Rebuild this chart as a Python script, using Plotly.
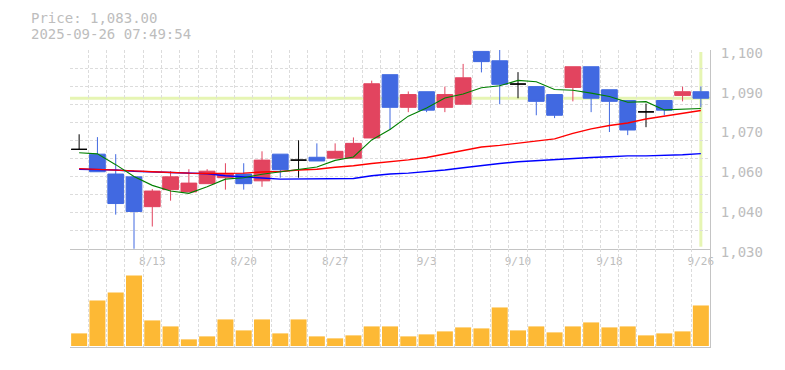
import plotly.graph_objects as go

# ---------------- data ----------------
dates = ["8/6", "8/7", "8/8", "8/12", "8/13", "8/14", "8/15", "8/18", "8/19", "8/20",
         "8/21", "8/22", "8/25", "8/26", "8/27", "8/28", "8/29", "9/1", "9/2", "9/3",
         "9/4", "9/5", "9/8", "9/9", "9/10", "9/11", "9/12", "9/16", "9/17", "9/18",
         "9/19", "9/22", "9/24", "9/25", "9/26"]
label_dates = ["8/13", "8/20", "8/27", "9/3", "9/10", "9/18", "9/26"]

opens = [1065.0, 1063.3, 1056.3, 1055.3, 1044.8, 1050.8, 1050.0, 1052.9, 1055.0, 1056.3,
         1053.9, 1063.3, 1061.2, 1062.2, 1061.9, 1061.9, 1069.0, 1091.3, 1079.8, 1085.3,
         1079.8, 1080.9, 1099.5, 1096.2, 1088.0, 1087.1, 1084.3, 1086.8, 1094.1, 1086.0,
         1082.2, 1078.2, 1082.2, 1084.0, 1085.3]
highs = [1070.3, 1069.3, 1063.3, 1055.3, 1051.0, 1057.3, 1058.0, 1058.0, 1060.1, 1060.1,
         1064.3, 1063.3, 1068.2, 1067.1, 1067.1, 1069.2, 1089.2, 1091.3, 1085.4, 1085.3,
         1087.1, 1095.1, 1099.5, 1101.0, 1092.2, 1087.1, 1084.3, 1094.1, 1094.1, 1086.0,
         1082.2, 1081.1, 1082.2, 1087.1, 1087.1]
lows = [1065.0, 1057.1, 1042.0, 1029.8, 1037.8, 1046.9, 1050.0, 1052.9, 1050.8, 1050.8,
        1051.8, 1055.0, 1055.0, 1060.9, 1061.9, 1061.9, 1069.0, 1071.8, 1078.1, 1078.1,
        1078.1, 1080.9, 1092.1, 1080.9, 1083.0, 1077.0, 1076.0, 1081.9, 1078.1, 1071.1,
        1070.0, 1072.8, 1077.0, 1081.9, 1079.8]
closes = [1065.0, 1057.1, 1045.9, 1043.1, 1050.3, 1055.3, 1053.1, 1057.3, 1056.5, 1052.9,
          1061.2, 1057.8, 1061.2, 1060.9, 1064.3, 1067.1, 1088.1, 1079.8, 1084.3, 1078.8,
          1084.3, 1090.2, 1095.9, 1087.9, 1088.0, 1081.9, 1077.0, 1094.1, 1083.0, 1081.9,
          1071.8, 1078.2, 1078.8, 1085.3, 1083.0]

ma_short = [1063.8, 1063.4, 1059.6, 1055.4, 1052.3, 1050.3, 1049.5, 1051.8, 1054.5, 1055.0,
            1056.2, 1057.1, 1057.9, 1058.8, 1061.1, 1062.3, 1068.3, 1072.0, 1076.7, 1079.6,
            1083.1, 1084.5, 1086.7, 1087.4, 1089.3, 1088.8, 1086.1, 1085.8, 1084.8, 1083.6,
            1081.6, 1081.8, 1078.9, 1079.2, 1079.4]
ma_mid = [1058.2, 1058.0, 1057.8, 1057.4, 1057.1, 1056.8, 1056.6, 1056.5, 1056.5, 1056.6,
          1057.0, 1057.2, 1057.7, 1058.0, 1058.7, 1059.2, 1060.0, 1060.6, 1061.3, 1062.1,
          1063.3, 1064.6, 1065.8, 1066.4, 1067.1, 1067.9, 1068.7, 1070.6, 1072.2, 1073.4,
          1074.3, 1075.7, 1076.7, 1077.6, 1078.7]
ma_long = [1058.0, 1057.9, 1057.7, 1057.3, 1057.1, 1056.8, 1056.6, 1056.4, 1055.7, 1055.2,
           1054.9, 1054.5, 1054.5, 1054.5, 1054.5, 1054.7, 1055.7, 1056.3, 1056.6, 1057.1,
           1057.7, 1058.5, 1059.3, 1060.0, 1060.6, 1061.0, 1061.4, 1061.9, 1062.1, 1062.4,
           1062.7, 1062.7, 1062.8, 1063.1, 1063.5]

volumes = [38, 137, 161, 212, 77, 59, 20, 29, 80, 47, 80, 38, 80, 29, 23, 32, 59, 59,
           29, 35, 44, 56, 53, 116, 47, 59, 41, 59, 71, 56, 59, 32, 38, 44, 122]

price_ticks = [1030, 1044, 1058, 1072, 1086, 1099.999]
price_tick_text = ["1,030", "1,040", "1,060", "1,070", "1,090", "1,100"]

title_price = "Price: 1,083.00"
title_time = "2025-09-26 07:49:54"

# ---------------- styling ----------------
FONT = "DejaVu Sans Mono"
UP = "#e2445f"
DOWN = "#4169e1"
GRID = "#dcdcdc"
AXIS = "#c4c4c4"
TEXT = "#bdbdbd"
HILITE = "#e6f5b3"
VOL = "#fdb935"

x = list(range(len(dates)))

def pick(idx, arr):
    return [arr[i] for i in idx]

up_i = [i for i in x if closes[i] > opens[i]]
dn_i = [i for i in x if closes[i] < opens[i]]
dj_i = [i for i in x if closes[i] == opens[i]]

fig = go.Figure()

# moving averages (behind candles)
fig.add_trace(go.Scatter(x=x, y=ma_long, mode="lines", line=dict(color="#0000ff", width=1.4),
                         xaxis="x", yaxis="y", hoverinfo="skip"))
fig.add_trace(go.Scatter(x=x, y=ma_mid, mode="lines", line=dict(color="#ff0000", width=1.4),
                         xaxis="x", yaxis="y", hoverinfo="skip"))
fig.add_trace(go.Scatter(x=x, y=ma_short, mode="lines", line=dict(color="#008000", width=1.1),
                         xaxis="x", yaxis="y", hoverinfo="skip"))

def candle(idx, color):
    return go.Candlestick(
        x=idx, open=pick(idx, opens), high=pick(idx, highs), low=pick(idx, lows),
        close=pick(idx, closes), xaxis="x", yaxis="y", whiskerwidth=0,
        increasing=dict(line=dict(color=color, width=1), fillcolor=color),
        decreasing=dict(line=dict(color=color, width=1), fillcolor=color),
    )

fig.add_trace(candle(up_i, UP))
fig.add_trace(candle(dn_i, DOWN))
fig.add_trace(candle(dj_i, "#000000"))

fig.add_trace(go.Bar(x=x, y=volumes, width=0.875, marker=dict(color=VOL, line=dict(width=0)),
                     xaxis="x2", yaxis="y2", hoverinfo="skip"))

grid_vals = [1030 + (1100 - 1030) * k / 11 for k in range(12)]
split = 99 / 299

minor_x = dict(tickmode="linear", tick0=-0.5, dtick=1, showgrid=True, gridcolor=GRID,
               griddash="3px,2px", gridwidth=1, ticks="")

fig.update_layout(
    width=777, height=362,
    margin=dict(l=62, r=75, t=42, b=21),
    paper_bgcolor="white", plot_bgcolor="white",
    showlegend=False,
    boxgap=0.14, boxgroupgap=0,
    font=dict(family=FONT, color=TEXT),
    xaxis=dict(domain=[0, 1], anchor="y", range=[-0.5, len(dates) - 0.5],
               tickmode="array", tickvals=[dates.index(d) for d in label_dates],
               ticktext=label_dates, tickfont=dict(size=11, color=TEXT, family=FONT),
               showgrid=False, minor=minor_x, showline=True, linecolor=AXIS, linewidth=1,
               zeroline=False, ticks="", rangeslider=dict(visible=False),
               ticklabelstandoff=2),
    xaxis2=dict(domain=[0, 1], anchor="y2", matches="x", range=[-0.5, len(dates) - 0.5],
                showticklabels=False, showgrid=False, minor=minor_x, showline=True,
                linecolor=AXIS, linewidth=1, zeroline=False, ticks=""),
    yaxis=dict(domain=[split, 1], anchor="x", range=[1030, 1100], side="right",
               tickmode="array", tickvals=price_ticks, ticktext=price_tick_text,
               tickfont=dict(size=14, color=TEXT, family=FONT),
               ticks="outside", ticklen=7, tickcolor="rgba(0,0,0,0)", ticklabelshift=3,
               showgrid=False,
               minor=dict(tickmode="array", tickvals=grid_vals, showgrid=True, gridcolor=GRID,
                          griddash="3px,2px", gridwidth=1, ticks=""),
               showline=True, linecolor=AXIS, linewidth=1, zeroline=False),
    yaxis2=dict(domain=[0, split], anchor="x2", range=[-3, 293], side="right",
                showticklabels=False, showgrid=False, showline=True, linecolor=AXIS,
                linewidth=1, zeroline=False, ticks=""),
    shapes=[
        dict(type="line", xref="x domain", x0=0, x1=1, yref="y", y0=closes[-1], y1=closes[-1],
             line=dict(color=HILITE, width=3), layer="below"),
        dict(type="line", xref="x", x0=x[-1], x1=x[-1], yref="y domain", y0=0.01, y1=0.99,
             line=dict(color=HILITE, width=3), layer="below"),
    ],
    annotations=[
        dict(text=title_price, xref="paper", yref="paper", x=(29 - 70) / 640,
             y=1 + (50 - 17.5) / 299, xanchor="left", yanchor="middle", showarrow=False,
             font=dict(size=14, color=TEXT, family=FONT)),
        dict(text=title_time, xref="paper", yref="paper", x=(29 - 70) / 640,
             y=1 + (50 - 33.5) / 299, xanchor="left", yanchor="middle", showarrow=False,
             font=dict(size=14, color=TEXT, family=FONT)),
    ],
)

fig.write_html("out.html")
